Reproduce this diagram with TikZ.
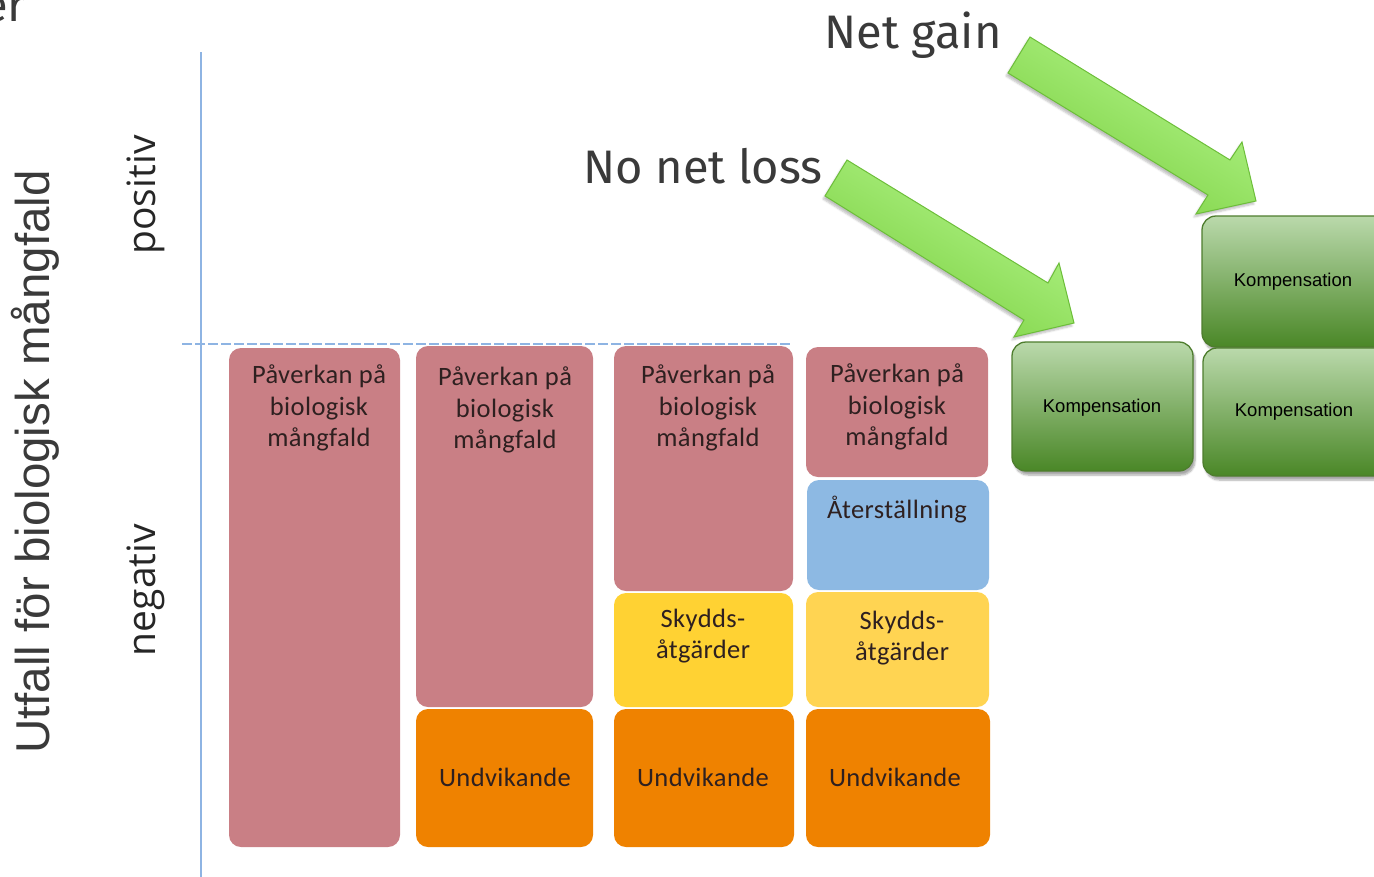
\documentclass[tikz,border=0pt]{standalone}
\usepackage{fontspec}
\setmainfont{Carlito}
\newfontfamily\arialf{Liberation Sans}
\newfontfamily\osf{Open Sans}
\newfontfamily\firaf{Fira Sans}
\usetikzlibrary{shadows.blur}
\definecolor{axisblue}{HTML}{8EB4E3}
\definecolor{ppink}{HTML}{C97F85}
\definecolor{porange}{HTML}{EF8200}
\definecolor{pyellowA}{HTML}{FFD233}
\definecolor{pyellowB}{HTML}{FFD452}
\definecolor{pblue}{HTML}{8DB9E3}
\definecolor{boxtext}{HTML}{2E2020}
\definecolor{textgray}{HTML}{3A3A3A}
\definecolor{kgtop}{HTML}{BAD9AB}
\definecolor{kgbot}{HTML}{4A8727}
\definecolor{kgborder}{HTML}{4E7D2E}
\definecolor{agl}{HTML}{B6F78E}
\definecolor{agd}{HTML}{78CE3D}
\definecolor{agb}{HTML}{6DBE3A}
\begin{document}
\begin{tikzpicture}[x=1pt,y=-1pt,
  blk/.style={rounded corners=12pt, inner sep=0pt, draw=none},
  btxt/.style={font=\fontsize{26.5}{31.5}\selectfont\addfontfeature{LetterSpace=1.5}, text=boxtext, align=center, inner sep=0pt},
  kbox/.style={rounded corners=14pt, inner sep=0pt, draw=kgborder, line width=1.3pt,
    top color=kgtop, bottom color=kgbot,
    blur shadow={shadow xshift=2pt, shadow yshift=-4pt, shadow blur steps=6, shadow opacity=35}},
  ktxt/.style={font=\arialf\fontsize{18.5}{22}\selectfont, text=black, inner sep=0pt},
  garrow/.style={top color=agl, bottom color=agd, shading angle=-31, draw=agb, line width=1pt,
    blur shadow={shadow xshift=-2pt, shadow yshift=-3pt, shadow blur steps=5, shadow opacity=25}},
  bigtxt/.style={font=\firaf\fontsize{47}{52}\selectfont, text=textgray, inner sep=0pt}
]
\useasboundingbox (0,0) rectangle (1374,876);
\clip (0,0) rectangle (1374,876);

% cut-off text at the top left
\node[bigtxt, anchor=base east] (er) at (26,21) {er};

% axes
\coordinate (axtop) at (201,52);
\coordinate (axbot) at (201,880);
\draw[axisblue, line width=2pt] (axtop) -- (axbot);
\coordinate (zl) at (182,344);
\coordinate (zr) at (793,344);
\draw[axisblue, line width=2pt, dash pattern=on 10pt off 3pt] (zl) -- (zr);

% axis labels
\node[font=\arialf\fontsize{47.5}{50}\selectfont, text=textgray, rotate=90, anchor=base, inner sep=0pt] (ylab) at (49,462) {Utfall för biologisk mångfald};
\node[font=\osf\fontsize{39}{42}\selectfont, text=black!85, rotate=90, anchor=base, inner sep=0pt] (pos) at (155,195) {positiv};
\node[font=\osf\fontsize{39}{42}\selectfont, text=black!85, rotate=90, anchor=base, inner sep=0pt] (neg) at (155,590) {negativ};

% column 1
\node[blk, fill=ppink, minimum width=171pt, minimum height=499pt] (p1) at (314.5,597.5) {};
\node[btxt] (p1t) at (319,408) {Påverkan på\\biologisk\\mångfald};

% column 2
\node[blk, fill=ppink, minimum width=177pt, minimum height=361pt] (p2) at (504.5,526.5) {};
\node[btxt] (p2t) at (505,410) {Påverkan på\\biologisk\\mångfald};
\node[blk, fill=porange, minimum width=177pt, minimum height=138pt] (o2) at (504.5,778) {};
\node[btxt] (o2t) at (505,777) {Undvikande};

% column 3
\node[blk, fill=ppink, minimum width=179pt, minimum height=245pt] (p3) at (703.5,468.5) {};
\node[btxt] (p3t) at (708,408) {Påverkan på\\biologisk\\mångfald};
\node[blk, fill=pyellowA, minimum width=179pt, minimum height=114pt] (y3) at (703.5,650) {};
\node[btxt] (y3t) at (703,636) {Skydds-\\åtgärder};
\node[blk, fill=porange, minimum width=180pt, minimum height=138pt] (o3) at (704,778) {};
\node[btxt] (o3t) at (703,777) {Undvikande};

% column 4
\node[blk, fill=ppink, minimum width=182pt, minimum height=130pt] (p4) at (897,412) {};
\node[btxt] (p4t) at (897,407) {Påverkan på\\biologisk\\mångfald};
\node[blk, fill=pblue, minimum width=182pt, minimum height=110pt] (b4) at (898,535) {};
\node[btxt] (b4t) at (897,510) {Återställning};
\node[blk, fill=pyellowB, minimum width=183pt, minimum height=115pt] (y4) at (897.5,649.5) {};
\node[btxt] (y4t) at (902,638) {Skydds-\\åtgärder};
\node[blk, fill=porange, minimum width=184pt, minimum height=138pt] (o4) at (898,778) {};
\node[btxt] (o4t) at (895,777) {Undvikande};

% compensation boxes
\node[kbox, minimum width=181pt, minimum height=129pt] (k1) at (1102.5,406.5) {};
\node[ktxt] (k1t) at (1102,408) {Kompensation};
\node[kbox, minimum width=188pt, minimum height=131pt] (k2) at (1296,281.5) {};
\node[ktxt] (k2t) at (1293,282) {Kompensation};
\node[kbox, minimum width=187pt, minimum height=128pt] (k3) at (1296.5,412) {};
\node[ktxt] (k3t) at (1294,412) {Kompensation};

% labels
\node[bigtxt, anchor=base] (ng) at (913,48) {Net gain};
\node[bigtxt, anchor=base] (nnl) at (703,183) {No net loss};

% block arrows
\path[garrow] (1030,37) -- (1008,73) -- (1208,195) -- (1196,214) -- (1256,201) -- (1242,142) -- (1230,160) -- cycle;
\path[garrow] (847,160) -- (825,196) -- (1024,320) -- (1014,337) -- (1074,323) -- (1059,263) -- (1048,283) -- cycle;
\end{tikzpicture}
\end{document}
